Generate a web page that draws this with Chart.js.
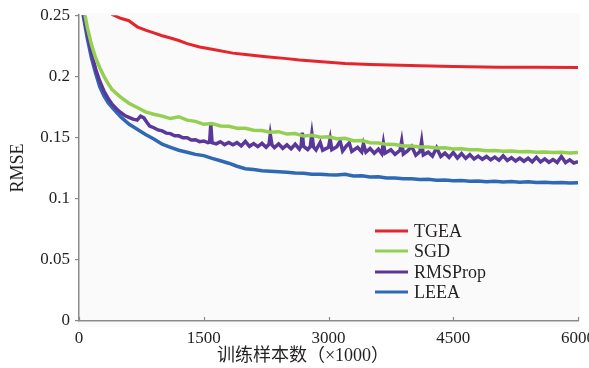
<!DOCTYPE html>
<html>
<head>
<meta charset="utf-8">
<script src="https://cdn.jsdelivr.net/npm/chart.js@4/dist/chart.umd.min.js"></script>
<style>
  html, body { margin: 0; padding: 0; background: #fff; }
  canvas { display: block; }
</style>
</head>
<body>
<canvas id="rmse-chart" width="589" height="368"></canvas>
<script>
// series names, in legend order
const seriesNames = ['TGEA', 'SGD', 'RMSProp', 'LEEA'];
const seriesColors = ['#e4252b', '#94cf52', '#5a3899', '#2f69b6'];

const xTitle = '训练样本数（×1000）';
const yTitle = 'RMSE';

// TGEA: smooth curve, sparse samples
const tgeaX = [0, 150, 300, 400, 500, 600, 700, 800, 900, 1000, 1100, 1200, 1300, 1450, 1600, 1850, 2000, 2250, 2500, 2650, 3000, 3200, 3500, 4100, 4500, 5050, 5500, 6000];
const tgeaY = [0.285, 0.270, 0.258, 0.2505, 0.2475, 0.2455, 0.2405, 0.2378, 0.2355, 0.2332, 0.2314, 0.2293, 0.2268, 0.2240, 0.2222, 0.2190, 0.2178, 0.2160, 0.2145, 0.2133, 0.2115, 0.2105, 0.2097, 0.2086, 0.2080, 0.2075, 0.2074, 0.2073];

// SGD and LEEA share these sample positions
const stepX = [0, 50, 100, 150, 200, 250, 300, 350, 400, 500, 600, 700, 800, 900, 1000,
  1100, 1200, 1300, 1400, 1500, 1600, 1700, 1800, 1900, 2000,
  2100, 2200, 2300, 2400, 2500, 2600, 2700, 2800, 2900, 3000,
  3100, 3200, 3300, 3400, 3500, 3600, 3700, 3800, 3900, 4000,
  4100, 4200, 4300, 4400, 4500, 4600, 4700, 4800, 4900, 5000,
  5100, 5200, 5300, 5400, 5500, 5600, 5700, 5800, 5900, 6000];

const sgdY = [0.275, 0.258, 0.240, 0.226, 0.215, 0.207, 0.200, 0.194, 0.189, 0.1830, 0.1780, 0.1745, 0.1710, 0.1690, 0.1675,
  0.1655, 0.1670, 0.1642, 0.1632, 0.1608, 0.1614, 0.1594, 0.1592, 0.1576, 0.1576,
  0.1559, 0.1558, 0.1543, 0.1548, 0.1528, 0.1533, 0.1512, 0.1518, 0.1502, 0.1506,
  0.1490, 0.1493, 0.1474, 0.1475, 0.1458, 0.1455, 0.1444, 0.1443, 0.1430, 0.1431,
  0.1422, 0.1423, 0.1415, 0.1416, 0.1407, 0.1408, 0.1400, 0.1400, 0.1392, 0.1394,
  0.1388, 0.1390, 0.1384, 0.1386, 0.1380, 0.1382, 0.1377, 0.1379, 0.1374, 0.1377];

const leeaY = [0.270, 0.250, 0.231, 0.215, 0.2025, 0.1915, 0.1840, 0.1785, 0.1745, 0.1670, 0.1610, 0.1568, 0.1525, 0.1488, 0.1445,
  0.1420, 0.1396, 0.1380, 0.1362, 0.1352, 0.1330, 0.1310, 0.1290, 0.1265, 0.1245,
  0.1238, 0.1229, 0.1224, 0.1220, 0.1216, 0.1209, 0.1207, 0.1200, 0.1199, 0.1195,
  0.1193, 0.1200, 0.1186, 0.1188, 0.1178, 0.1179, 0.1170, 0.1169, 0.1163, 0.1163,
  0.1156, 0.1158, 0.1150, 0.1153, 0.1146, 0.1148, 0.1143, 0.1144, 0.1139, 0.1142,
  0.1137, 0.1140, 0.1135, 0.1138, 0.1133, 0.1135, 0.1131, 0.1133, 0.1129, 0.1131];

// RMSProp: denser samples, with the narrow spikes
const rmsX = [0, 50, 100, 150, 200, 250, 300, 350, 400, 450, 500, 550, 600, 650, 700, 740, 780, 820, 850, 900, 950,
  1000, 1050, 1100, 1150, 1200, 1250, 1300, 1350, 1400, 1450, 1500, 1550, 1570, 1585, 1600, 1650, 1700, 1750, 1800, 1850, 1900, 1950,
  2000, 2050, 2100, 2150, 2200, 2250, 2285, 2300, 2320, 2350, 2400, 2450, 2500, 2550, 2600, 2650, 2670, 2685, 2700, 2750, 2780, 2800, 2820, 2850, 2900, 2930,
  3000, 3020, 3040, 3100, 3140, 3170, 3220, 3250, 3280, 3350, 3400, 3420, 3450, 3500, 3550, 3600, 3640, 3660, 3680, 3750, 3800, 3860, 3880, 3900, 3950,
  4000, 4050, 4100, 4120, 4140, 4200, 4250, 4300, 4350, 4400, 4450, 4500, 4550, 4600, 4650, 4700, 4750, 4800, 4850, 4900, 4950,
  5000, 5050, 5100, 5150, 5200, 5250, 5300, 5350, 5400, 5450, 5500, 5550, 5600, 5650, 5700, 5750, 5800, 5850, 5900, 5950, 6000];

const rmsY = [0.270, 0.252, 0.235, 0.219, 0.206, 0.196, 0.188, 0.182, 0.177, 0.1735, 0.1705, 0.1680, 0.1665, 0.1650, 0.1642, 0.1674, 0.1660, 0.1620, 0.1594, 0.1580, 0.1562,
  0.1554, 0.1536, 0.1532, 0.1514, 0.1514, 0.1498, 0.1498, 0.1480, 0.1482, 0.1466, 0.1472, 0.1458, 0.1462, 0.1610, 0.1458, 0.1448, 0.1466, 0.1442, 0.1460, 0.1440, 0.1458, 0.1432,
  0.1468, 0.1428, 0.1450, 0.1426, 0.1452, 0.1420, 0.1445, 0.1525, 0.1440, 0.1418, 0.1448, 0.1412, 0.1440, 0.1408, 0.1445, 0.1405, 0.1430, 0.1540, 0.1428, 0.1402, 0.1425, 0.1530, 0.1422, 0.1398, 0.1460, 0.1396,
  0.1420, 0.1490, 0.1400, 0.1425, 0.1470, 0.1390, 0.1435, 0.1455, 0.1386, 0.1420, 0.1382, 0.1448, 0.1380, 0.1410, 0.1372, 0.1405, 0.1368, 0.1457, 0.1372, 0.1400, 0.1362, 0.1395, 0.1470, 0.1365, 0.1390,
  0.1428, 0.1355, 0.1385, 0.1470, 0.1358, 0.1380, 0.1348, 0.1416, 0.1345, 0.1372, 0.1338, 0.1378, 0.1332, 0.1368, 0.1330, 0.1360, 0.1325, 0.1348, 0.1322, 0.1345, 0.1318,
  0.1340, 0.1314, 0.1350, 0.1312, 0.1335, 0.1308, 0.1332, 0.1306, 0.1330, 0.1302, 0.1338, 0.1300, 0.1325, 0.1298, 0.1320, 0.1296, 0.1345, 0.1295, 0.1318, 0.1292, 0.1302];

// axis ranges / tick steps
const xMin = 0, xMax = 6000, xStep = 1500;
const yMin = 0, yMax = 0.25, yStep = 0.05;

const toPoints = (xs, ys) => xs.map((x, i) => ({ x: x, y: ys[i] }));

const seriesData = [
  toPoints(tgeaX, tgeaY),
  toPoints(stepX, sgdY),
  toPoints(rmsX, rmsY),
  toPoints(stepX, leeaY)
];
const seriesWidths = [3, 3.5, 3.5, 3.5];

const serif = '"Liberation Serif", "Times New Roman", serif';
const textColor = '#231f20';
const axisColor = '#8a8a8a';

// light grey panel behind the plot
const plotBackground = {
  id: 'plotBackground',
  beforeDraw(chart) {
    const { ctx, chartArea: a } = chart;
    ctx.save();
    ctx.fillStyle = '#fafafa';
    ctx.fillRect(a.left - 1, a.top - 2, a.right - a.left + 3, a.bottom - a.top + 8);
    ctx.restore();
  }
};

// x tick marks point up into the plot
const innerTicks = {
  id: 'innerTicks',
  afterDraw(chart) {
    const { ctx, chartArea: a, scales } = chart;
    ctx.save();
    ctx.strokeStyle = axisColor;
    ctx.lineWidth = 1.2;
    scales.x.ticks.forEach(t => {
      const px = Math.round(scales.x.getPixelForValue(t.value)) + 0.5;
      ctx.beginPath();
      ctx.moveTo(px, a.bottom);
      ctx.lineTo(px, a.bottom - 4);
      ctx.stroke();
    });
    ctx.restore();
  }
};

// legend drawn inside the plot, lower right
const insideLegend = {
  id: 'insideLegend',
  afterDraw(chart) {
    const ctx = chart.ctx;
    const rows = [231, 251, 272, 292];
    ctx.save();
    ctx.font = '18px ' + serif;
    ctx.textBaseline = 'middle';
    ctx.textAlign = 'left';
    chart.data.datasets.forEach((ds, i) => {
      ctx.strokeStyle = ds.borderColor;
      ctx.lineWidth = 3;
      ctx.beginPath();
      ctx.moveTo(375, rows[i]);
      ctx.lineTo(408, rows[i]);
      ctx.stroke();
      ctx.fillStyle = textColor;
      ctx.fillText(ds.label, 414, rows[i] + 1);
    });
    ctx.restore();
  }
};

// x axis title sits a little left of centre in the original
const xAxisTitle = {
  id: 'xAxisTitle',
  afterDraw(chart) {
    const ctx = chart.ctx;
    ctx.save();
    ctx.font = '18px ' + serif + ', "Noto Sans CJK SC"';
    ctx.fillStyle = textColor;
    ctx.textAlign = 'center';
    ctx.textBaseline = 'middle';
    ctx.fillText(xTitle, 303, 356);
    ctx.restore();
  }
};

const ctx = document.getElementById('rmse-chart').getContext('2d');
new Chart(ctx, {
  type: 'line',
  data: {
    datasets: seriesNames.map((name, i) => ({
      label: name,
      data: seriesData[i],
      borderColor: seriesColors[i],
      backgroundColor: seriesColors[i],
      borderWidth: seriesWidths[i],
      pointRadius: 0,
      tension: 0,
      fill: false
    }))
  },
  options: {
    responsive: false,
    animation: false,
    devicePixelRatio: 1,
    layout: { padding: { top: 14, right: 11, left: 0, bottom: 0 } },
    plugins: {
      legend: { display: false },
      tooltip: { enabled: false }
    },
    scales: {
      x: {
        type: 'linear',
        min: xMin,
        max: xMax,
        ticks: {
          stepSize: xStep,
          padding: 7,
          color: textColor,
          font: { family: serif, size: 17 },
          maxRotation: 0,
          callback: v => String(v)
        },
        grid: { display: false, drawTicks: false },
        border: { display: true, color: axisColor, width: 1.5 },
        afterFit(scale) {
          scale.paddingLeft = 0;
          scale.paddingRight = 0;
          scale.height = 47;
        }
      },
      y: {
        min: yMin,
        max: yMax,
        ticks: {
          stepSize: yStep,
          padding: 5,
          color: textColor,
          font: { family: serif, size: 17 },
          callback: v => String(Number(v.toFixed(2)))
        },
        grid: { drawOnChartArea: false, drawTicks: true, tickLength: 4, color: axisColor, lineWidth: 1.2 },
        border: { display: true, color: axisColor, width: 1.5 },
        title: {
          display: true,
          text: yTitle,
          color: textColor,
          font: { family: serif, size: 18 },
          padding: { top: 7, bottom: 0 }
        },
        afterFit(scale) {
          scale.width = 79;
        }
      }
    }
  },
  plugins: [plotBackground, innerTicks, insideLegend, xAxisTitle]
});
</script>
</body>
</html>
